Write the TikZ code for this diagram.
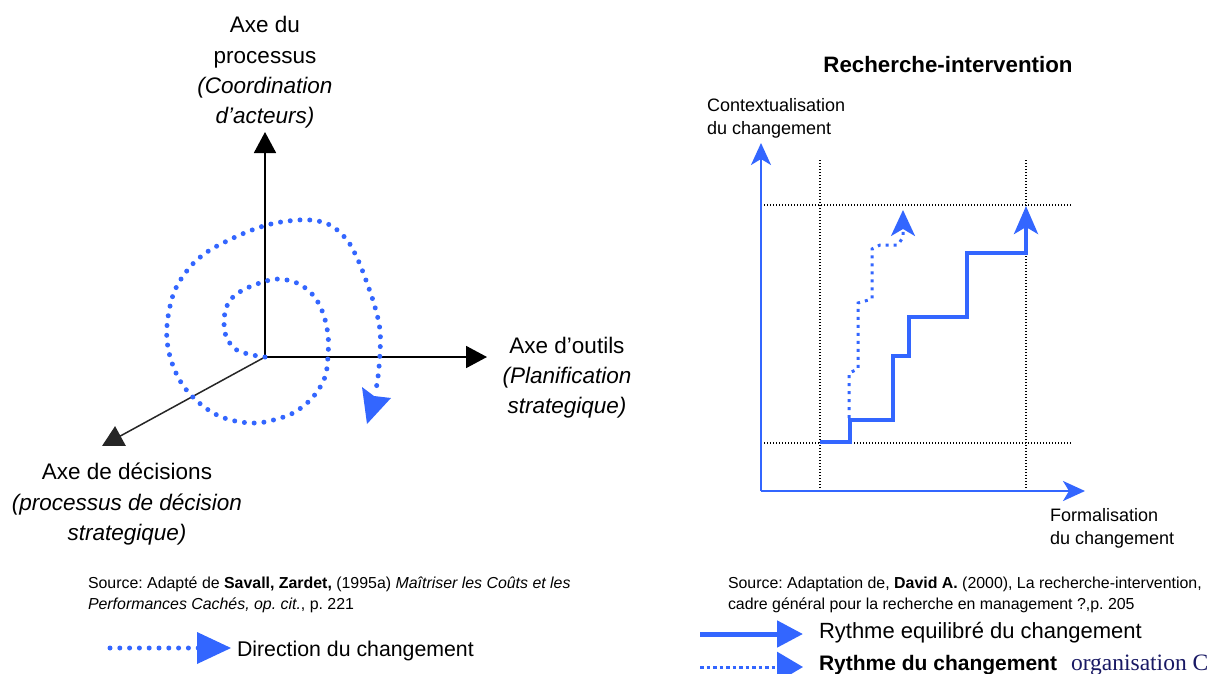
\documentclass[tikz,border=0pt]{standalone}
\usepackage{fontspec}
\setmainfont{Liberation Sans}
\newfontfamily\serifC{Liberation Serif}
\usetikzlibrary{arrows.meta}
\definecolor{cblue}{RGB}{51,102,255}
\definecolor{navyC}{RGB}{25,25,100}
\frenchspacing
\begin{document}
\begin{tikzpicture}[x=1pt,y=-1pt,
  every node/.style={inner sep=0pt, outer sep=0pt},
  big/.style={font=\fontsize{22.5}{30}\selectfont, anchor=base},
  bigi/.style={font=\fontsize{22.5}{30}\selectfont\itshape, anchor=base},
  mid/.style={font=\fontsize{18}{23}\selectfont, anchor=base west},
  small/.style={font=\fontsize{15.9}{20}\selectfont, anchor=base west},
  leg/.style={font=\fontsize{22}{28}\selectfont, anchor=base west},
  axisk/.style={black, line width=1.8pt, -{Triangle[length=21pt,width=22pt]}},
  spiral/.style={cblue, line width=5pt, line cap=round, dash pattern=on 0pt off 9.8pt},
  raxis/.style={cblue, line width=2.2pt, -{Stealth[length=22pt,width=20pt,inset=6pt]}},
  grid/.style={black, line width=1.3pt, dash pattern=on 1.4pt off 1.6pt},
  stair/.style={cblue, line width=4pt, line join=miter, -{Stealth[length=28pt,width=24pt,inset=7pt]}},
  dstair/.style={cblue, line width=3pt, dash pattern=on 3pt off 5pt, -{Stealth[length=26pt,width=24pt,inset=7pt]}}
]
\clip (0,0) rectangle (1229,673);
\useasboundingbox (0,0) rectangle (1229,673);
\fill[white] (0,0) rectangle (1229,673);

% ---------------- left diagram ----------------
\coordinate (O) at (265,357);
\coordinate (Up) at (265,132);
\coordinate (Rt) at (487,357);
\coordinate (Dl) at (102,446);
\draw[axisk] (O) -- (Up);
\draw[axisk] (O) -- (Rt);
\draw[axisk, black!85, line width=1.5pt] (O) -- (Dl);

\node[big] (u1) at (265,32) {Axe du};
\node[big] (u2) at (265,63) {processus};
\node[bigi] (u3) at (265,93) {(Coordination};
\node[bigi] (u4) at (265,123) {d’acteurs)};

\node[big] (r1) at (567,353) {Axe d’outils};
\node[bigi] (r2) at (567,383) {(Planification};
\node[bigi] (r3) at (567,413) {strategique)};

\node[big] (d1) at (127,479) {Axe de décisions};
\node[bigi] (d2) at (127,510) {(processus de décision};
\node[bigi] (d3) at (127,540) {strategique)};

\draw[spiral] plot[smooth, tension=0.6] coordinates {
 (265,357) (248,354) (234,348) (225,333) (225,312) (232,298) (245,289) (263,282)
 (278,279) (297,283) (313,295) (323,313) (328,335) (328,355) (325,377) (313,397)
 (295,412) (277,419) (257,423) (235,421) (215,414) (197,401) (182,384) (172,363)
 (167,340) (168,317) (175,290) (190,267) (207,252) (227,241) (247,232) (267,225)
 (288,221) (310,220) (330,225) (347,240) (358,260) (367,283) (375,307) (380,330)
 (380,353) (378,377) (376,389)};
\fill[cblue] (367,424) -- (362,387) -- (374,396) -- (391,398) -- cycle;

\node[small] (s1) at (88,588) {Source: Adapté de \textbf{Savall, Zardet,} (1995a) \textit{Maîtriser les Coûts et les}};
\node[small] (s2) at (88,609) {\textit{Performances Cachés, op. cit.}, p. 221};

\coordinate (lgA) at (110,648);
\coordinate (lgB) at (200,648);
\draw[spiral] (lgA) -- (lgB);
\fill[cblue] (197,632) -- (231,648) -- (197,664) -- cycle;
\node[leg, font=\fontsize{21.3}{28}\selectfont] (lgt) at (237,656) {Direction du changement};

% ---------------- right diagram ----------------
\node[font=\fontsize{22.3}{28}\selectfont\bfseries, anchor=base] (title) at (948,72) {Recherche-intervention};
\node[mid] (cy1) at (707,111) {Contextualisation};
\node[mid] (cy2) at (707,134) {du changement};
\node[mid] (fx1) at (1050,521) {Formalisation};
\node[mid] (fx2) at (1050,544) {du changement};

\coordinate (C) at (761,491);
\coordinate (Ytop) at (761,143);
\coordinate (Xend) at (1085,491);

\coordinate (v1a) at (820,160); \coordinate (v1b) at (820,492);
\coordinate (v2a) at (1026,160); \coordinate (v2b) at (1026,492);
\coordinate (h1a) at (761,205); \coordinate (h1b) at (1071,205);
\coordinate (h2a) at (761,443); \coordinate (h2b) at (1071,443);
\draw[grid] (v1a) -- (v1b);
\draw[grid] (v2a) -- (v2b);
\draw[grid] (h1a) -- (h1b);
\draw[grid] (h2a) -- (h2b);

\draw[raxis] (C) -- (Ytop);
\draw[raxis] (C) -- (Xend);

\coordinate (sA) at (820,442);
\coordinate (sB) at (1026,206);
\draw[stair] (sA) -- (850,442) -- (850,420) -- (893,420) -- (893,356) -- (909,356)
  -- (909,317) -- (967,317) -- (967,253) -- (1026,253) -- (sB);

\coordinate (dA) at (849,418);
\coordinate (dB) at (903,210);
\draw[dstair] (dA) -- (849,373) -- (858,369) -- (858,303) -- (872,299) -- (872,249)
  -- (880,245) -- (898,245) -- (903,237) -- (dB);

\node[small] (t1) at (728,588) {Source: Adaptation de, \textbf{David A.} (2000), La recherche-intervention,};
\node[small] (t2) at (728,609) {cadre général pour la recherche en management ?,p. 205};

\coordinate (l1a) at (700,634); \coordinate (l1b) at (803,634);
\draw[cblue, line width=5pt, -{Triangle[length=26pt,width=26pt]}] (l1a) -- (l1b);
\coordinate (l2a) at (700,667); \coordinate (l2b) at (803,667);
\draw[cblue, line width=3pt, dash pattern=on 3.5pt off 3pt, -{Triangle[length=26pt,width=30pt]}] (l2a) -- (l2b);

\node[leg] (lt1) at (819,638) {Rythme equilibré du changement};
\node[leg, font=\fontsize{21}{28}\selectfont\bfseries] (lt2) at (819,670) {Rythme du changement};
\node[anchor=base west, font=\fontsize{23.5}{28}\serifC\selectfont, text=navyC] (lt3) at (1071,670) {organisation C};
\end{tikzpicture}
\end{document}
